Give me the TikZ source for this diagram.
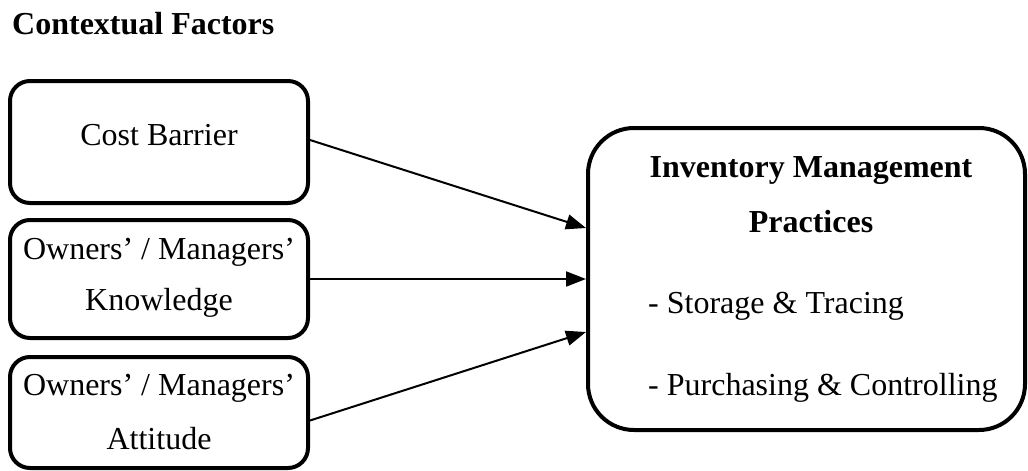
\documentclass[tikz,border=0pt]{standalone}
\usepackage{fontspec}
\setmainfont{Liberation Serif}
\usetikzlibrary{arrows.meta,calc}

\tikzset{
  px/.style={x=1pt,y=-1pt},
  factor/.style={draw=black,line width=4pt,rounded corners=20pt,
    minimum width=298pt,inner sep=0pt},
  outcome/.style={draw=black,line width=4pt,rounded corners=46pt,
    minimum width=437pt,minimum height=302pt,inner sep=0pt},
  txt/.style={font=\fontsize{32}{38}\selectfont,inner sep=0pt,anchor=base},
  txtl/.style={txt,anchor=base west},
  head/.style={font=\fontsize{32}{38}\selectfont\bfseries,inner sep=0pt,anchor=base},
  link/.style={line width=2pt,-{Triangle[length=20pt,width=15pt]}}
}

\begin{document}
\begin{tikzpicture}[px]
  \useasboundingbox (0,0) rectangle (1028,471);

  % heading
  \node[head,anchor=base west] (title) at (12,34) {Contextual Factors};

  % contextual factor boxes
  \node[factor,minimum height=122pt] (cost) at (159,142) {};
  \node[factor,minimum height=118pt] (know) at (159,279) {};
  \node[factor,minimum height=111pt] (att)  at (159,412.5) {};

  \node[txt] (costT) at (159,145) {Cost Barrier};
  \node[txt] (knowA) at (159,259) {Owners’ / Managers’};
  \node[txt] (knowB) at (159,310) {Knowledge};
  \node[txt] (attA)  at (159,395) {Owners’ / Managers’};
  \node[txt] (attB)  at (159,449) {Attitude};

  % outcome box
  \node[outcome] (imp) at (806.5,279) {};
  \node[head] (impA) at (811,177) {Inventory Management};
  \node[head] (impB) at (811,232) {Practices};
  \node[txtl] (impC) at (648,313) {- Storage \& Tracing};
  \node[txtl] (impD) at (648,395) {- Purchasing \& Controlling};

  % relations
  \draw[link] ($(cost.east)+(0,-2)$) -- ($(imp.west)+(0,-51)$);
  \draw[link] (know.east) -- (imp.west);
  \draw[link] ($(att.east)+(0,8)$) -- ($(imp.west)+(0,53)$);
\end{tikzpicture}
\end{document}
